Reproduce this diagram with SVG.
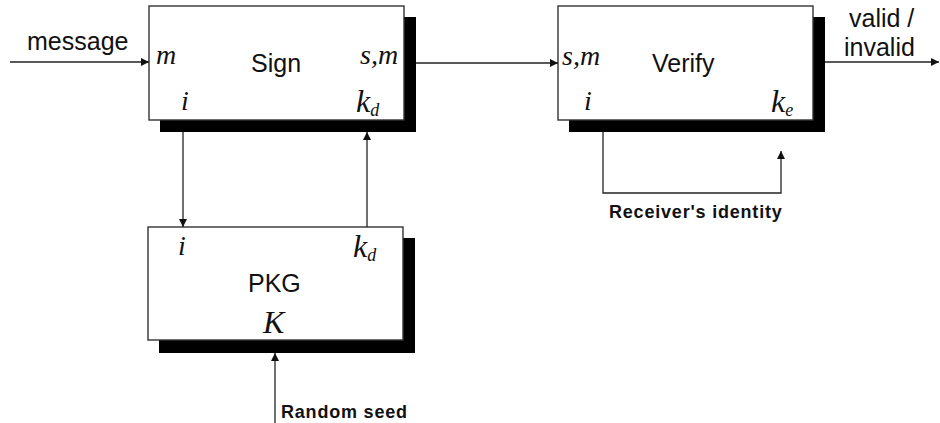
<svg xmlns="http://www.w3.org/2000/svg" width="940" height="423" viewBox="0 0 940 423">
  <style>
    .box { fill: #fff; stroke: #333; stroke-width: 1.4; }
    .shadow { fill: #000; }
    .line { fill: none; stroke: #222; stroke-width: 1.3; }
    .title { font-family: "Liberation Sans", Arial, sans-serif; font-size: 25px; fill: #111; }
    .small { font-family: "Liberation Sans", Arial, sans-serif; font-size: 18px; font-weight: bold; fill: #111; letter-spacing: 0.8px; }
    .var { font-family: "Liberation Serif", "Times New Roman", serif; font-style: italic; font-size: 28px; fill: #111; }
    .key { font-family: "Liberation Serif", "Times New Roman", serif; font-style: italic; font-size: 32px; fill: #111; }
    .sub { font-size: 18px; }
  </style>
  <defs>
    <marker id="arrow" viewBox="0 0 10 10" refX="10" refY="5" markerWidth="9" markerHeight="8" markerUnits="userSpaceOnUse" orient="auto">
      <path d="M0,0 L10,5 L0,10 z" fill="#111"/>
    </marker>
  </defs>

  <rect width="940" height="423" fill="#fff"/>

  <!-- Signing block -->
  <g id="sign">
    <rect class="shadow" x="160" y="17" width="256" height="115"/>
    <rect class="box" x="149" y="6" width="255" height="114"/>
    <text class="title" x="251" y="72">Sign</text>
    <text class="var" x="156" y="64">m</text>
    <text class="var" x="360" y="64">s,m</text>
    <text class="var" x="181" y="110">i</text>
    <text class="key" x="356" y="112">k<tspan class="sub" dy="4">d</tspan></text>
  </g>

  <!-- Verification block -->
  <g id="verify">
    <rect class="shadow" x="569" y="17" width="256" height="115"/>
    <rect class="box" x="558" y="6" width="255" height="114"/>
    <text class="title" x="652" y="72">Verify</text>
    <text class="var" x="562" y="65">s,m</text>
    <text class="var" x="584" y="110">i</text>
    <text class="key" x="771" y="112">k<tspan class="sub" dy="4">e</tspan></text>
  </g>

  <!-- Private key generator -->
  <g id="pkg">
    <rect class="shadow" x="159" y="238" width="256" height="115"/>
    <rect class="box" x="148" y="227" width="255" height="113"/>
    <text class="title" x="248" y="292">PKG</text>
    <text class="var" x="178" y="255">i</text>
    <text class="key" x="353" y="257">k<tspan class="sub" dy="4">d</tspan></text>
    <text class="key" x="263" y="333">K</text>
  </g>

  <!-- Connectors -->
  <g id="connectors">
    <line class="line" x1="10" y1="62" x2="149" y2="62" marker-end="url(#arrow)"/>
    <line class="line" x1="416" y1="63" x2="558" y2="63" marker-end="url(#arrow)"/>
    <line class="line" x1="825" y1="62" x2="939" y2="62" marker-end="url(#arrow)"/>
    <line class="line" x1="183" y1="132" x2="183" y2="227" marker-end="url(#arrow)"/>
    <line class="line" x1="367" y1="227" x2="367" y2="132" marker-end="url(#arrow)"/>
    <polyline class="line" points="603,132 603,193 781,193 781,151" marker-end="url(#arrow)"/>
    <line class="line" x1="275" y1="423" x2="275" y2="353" marker-end="url(#arrow)"/>
  </g>

  <!-- Edge labels -->
  <g id="labels">
    <text class="title" x="27" y="50">message</text>
    <text class="title" x="849" y="27">valid /</text>
    <text class="title" x="844" y="56">invalid</text>
    <text class="small" x="609" y="218">Receiver's identity</text>
    <text class="small" x="281" y="418">Random seed</text>
  </g>
</svg>
